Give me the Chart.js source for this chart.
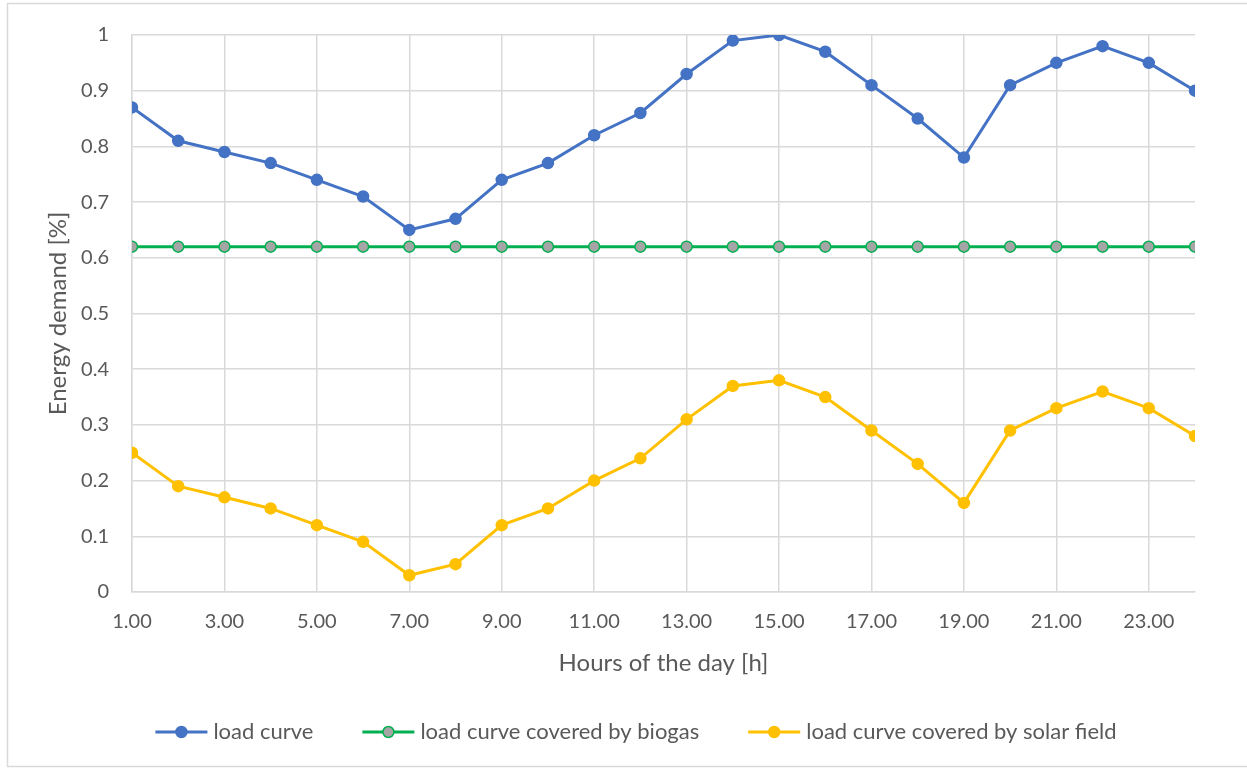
<!DOCTYPE html>
<html>
<head>
<meta charset="utf-8">
<script src="https://cdn.jsdelivr.net/npm/chart.js@4.4.1/dist/chart.umd.min.js"></script>
<style>
  html, body { margin: 0; padding: 0; background: #fff; }
  #wrap { width: 1247px; height: 769px; position: relative; }
</style>
</head>
<body>
<div id="wrap"><canvas id="c" width="1247" height="769"></canvas></div>
<script>
// Hours of the day
const hours = [1, 2, 3, 4, 5, 6, 7, 8, 9, 10, 11, 12, 13, 14, 15, 16, 17, 18, 19, 20, 21, 22, 23, 24];
// Labelled hour ticks
const hourTicks = [1, 3, 5, 7, 9, 11, 13, 15, 17, 19, 21, 23];
// Normalised energy demand
const loadCurve = [0.87, 0.81, 0.79, 0.77, 0.74, 0.71, 0.65, 0.67, 0.74, 0.77, 0.82, 0.86,
                   0.93, 0.99, 1.00, 0.97, 0.91, 0.85, 0.78, 0.91, 0.95, 0.98, 0.95, 0.90];
const biogasCurve = [0.62, 0.62, 0.62, 0.62, 0.62, 0.62, 0.62, 0.62, 0.62, 0.62, 0.62, 0.62,
                     0.62, 0.62, 0.62, 0.62, 0.62, 0.62, 0.62, 0.62, 0.62, 0.62, 0.62, 0.62];
const solarCurve = [0.25, 0.19, 0.17, 0.15, 0.12, 0.09, 0.03, 0.05, 0.12, 0.15, 0.20, 0.24,
                    0.31, 0.37, 0.38, 0.35, 0.29, 0.23, 0.16, 0.29, 0.33, 0.36, 0.33, 0.28];
const yTicks = [0, 0.1, 0.2, 0.3, 0.4, 0.5, 0.6, 0.7, 0.8, 0.9, 1];

const FONT = 'Lato, "Open Sans", sans-serif';
const TEXT = '#595959';
const GRID = '#d9d9d9';

const pts = arr => hours.map((h, i) => ({ x: h, y: arr[i] }));

function series(label, data, line, fill) {
  return {
    label, data: pts(data),
    borderColor: line, backgroundColor: fill,
    pointBackgroundColor: fill, pointBorderColor: line,
    borderWidth: 3, pointRadius: 5.5, pointBorderWidth: 1.5,
    pointHoverRadius: 5.5, tension: 0, fill: false
  };
}

// Frame around the chart and a line+marker legend underneath
const decor = {
  id: 'decor',
  beforeDraw(chart) {
    const ctx = chart.ctx;
    ctx.save();
    ctx.fillStyle = '#fff';
    ctx.fillRect(0, 0, chart.width, chart.height);
    ctx.strokeStyle = GRID;
    ctx.lineWidth = 1.5;
    ctx.beginPath();
    ctx.moveTo(1260, 3.5); ctx.lineTo(7.5, 3.5); ctx.lineTo(7.5, 766.5); ctx.lineTo(1260, 766.5);
    ctx.stroke();
    ctx.restore();
  },
  afterDraw(chart) {
    const ctx = chart.ctx;
    const y = 732;
    const lineLen = 52, gapText = 6, gapItem = 49;
    ctx.save();
    ctx.font = '22px ' + FONT;
    ctx.textBaseline = 'middle';
    const items = chart.data.datasets.map(d => ({ d, w: ctx.measureText(d.label).width }));
    let total = 0;
    items.forEach((it, i) => { total += lineLen + gapText + it.w + (i ? gapItem : 0); });
    let x = 636 - total / 2;
    items.forEach(({ d, w }) => {
      ctx.strokeStyle = d.borderColor;
      ctx.lineWidth = 3;
      ctx.beginPath(); ctx.moveTo(x, y); ctx.lineTo(x + lineLen, y); ctx.stroke();
      ctx.beginPath();
      ctx.arc(x + lineLen / 2, y, 5.5, 0, Math.PI * 2);
      ctx.fillStyle = d.pointBackgroundColor;
      ctx.fill();
      ctx.lineWidth = 1.5;
      ctx.strokeStyle = d.pointBorderColor;
      ctx.stroke();
      ctx.fillStyle = TEXT;
      ctx.textAlign = 'left';
      ctx.fillText(d.label, x + lineLen + gapText, y);
      x += lineLen + gapText + w + gapItem;
    });
    ctx.restore();
  }
};

new Chart(document.getElementById('c'), {
  type: 'line',
  data: {
    datasets: [
      series('load curve', loadCurve, '#4472C4', '#4472C4'),
      series('load curve covered by biogas', biogasCurve, '#00B050', '#A5A5A5'),
      series('load curve covered by solar field', solarCurve, '#FFC000', '#FFC000')
    ]
  },
  options: {
    responsive: false,
    animation: false,
    layout: { padding: { top: 30, right: 52, bottom: 0, left: 0 } },
    plugins: { legend: { display: false }, tooltip: { enabled: false } },
    scales: {
      x: {
        type: 'linear', min: 1, max: 24,
        afterBuildTicks: s => { s.ticks = hourTicks.map(v => ({ value: v })); },
        afterFit: s => { s.height = 769 - 592; },
        border: { display: true, color: GRID, width: 1.5 },
        grid: { color: GRID, lineWidth: 1.5, drawTicks: false },
        ticks: {
          color: TEXT, font: { family: FONT, size: 20 }, padding: 18, maxRotation: 0,
          autoSkip: false, callback: v => v.toFixed(2)
        },
        title: {
          display: true, text: 'Hours of the day [h]', color: TEXT,
          font: { family: FONT, size: 24 }, padding: { top: 0, bottom: 91 }
        }
      },
      y: {
        min: 0, max: 1,
        afterBuildTicks: s => { s.ticks = yTicks.map(v => ({ value: v })); },
        afterFit: s => { s.width = 132; },
        border: { display: true, color: GRID, width: 1.5 },
        grid: { color: GRID, lineWidth: 1.5, drawTicks: false },
        ticks: {
          color: TEXT, font: { family: FONT, size: 20 }, padding: 23,
          callback: v => String(Math.round(v * 10) / 10)
        },
        title: {
          display: true, text: 'Energy demand [%]', color: TEXT,
          font: { family: FONT, size: 24 }, padding: { top: 44, bottom: 0 }
        }
      }
    }
  },
  plugins: [decor]
});
</script>
</body>
</html>
